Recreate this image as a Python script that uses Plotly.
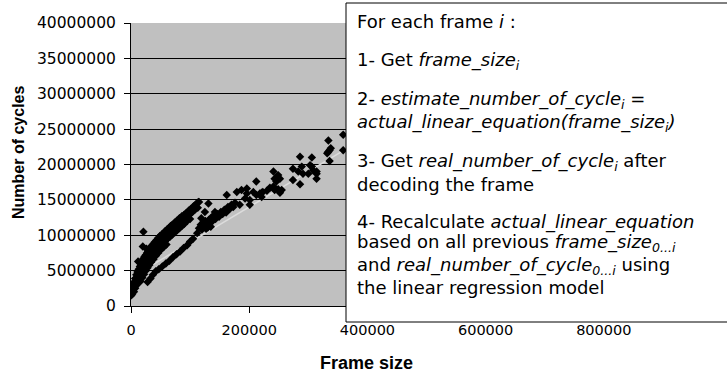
import plotly.graph_objects as go

# Decoding cost per frame: frame size in bytes, cycles in millions.
# Steep branch (small frames)
steep_x = [
    1000, 3000, 5000, 7000, 9000, 11000, 13000, 15000, 17000, 19000,
    21000, 23000, 25000, 27000, 29000, 31000, 33000, 35000, 37000, 40000,
    43000, 46000, 49000, 52000, 55000, 58000, 61000, 64000, 67000, 70000,
    74000, 78000, 82000, 86000, 90000, 94000, 98000, 102000, 106000, 110000, 115000,
    2000, 4000, 6000, 8000, 10000, 12000, 14000, 16000, 18000, 20000,
    22000, 24000, 26000, 28000, 30000, 32000, 34000, 36000, 38000, 41000,
    44000, 47000, 50000, 53000, 56000, 59000, 62000, 65000, 68000, 72000,
    76000, 80000, 84000, 88000, 92000, 96000, 100000, 104000, 108000, 113000,
    5000, 7000, 9000, 11000, 13000, 15000, 17000, 19000, 21000, 23000,
    25000, 27000, 29000, 31000, 33000, 36000, 39000, 42000, 45000, 48000,
    51000, 54000, 57000, 60000, 63000, 66000, 70000, 74000, 78000, 82000,
    86000, 90000, 95000, 100000,
    16000, 19000, 22000, 25000, 28000, 31000, 34000, 38000, 42000, 46000,
    50000, 55000, 60000,
    20000, 21000, 12000, 26000, 500, 1500,
]
steep_y = [
    2.2, 2.9, 3.4, 3.9, 4.4, 4.8, 5.2, 5.6, 6.0, 6.3,
    6.7, 7.0, 7.2, 7.5, 7.7, 8.0, 8.2, 8.5, 8.7, 9.0,
    9.3, 9.6, 9.9, 10.1, 10.3, 10.6, 10.8, 11.0, 11.3, 11.5,
    11.8, 12.1, 12.4, 12.7, 12.9, 13.2, 13.5, 13.8, 14.1, 14.4, 14.7,
    1.7, 2.3, 2.8, 3.3, 3.7, 4.1, 4.5, 4.9, 5.3, 5.6,
    5.9, 6.3, 6.5, 6.8, 7.1, 7.3, 7.6, 7.8, 8.0, 8.4,
    8.7, 9.0, 9.2, 9.5, 9.7, 9.9, 10.2, 10.4, 10.6, 10.9,
    11.2, 11.5, 11.8, 12.1, 12.4, 12.7, 13.0, 13.3, 13.6, 13.9,
    2.0, 2.5, 2.9, 3.3, 3.7, 4.1, 4.5, 4.9, 5.2, 5.5,
    5.8, 6.1, 6.3, 6.6, 6.8, 7.1, 7.5, 7.8, 8.1, 8.4,
    8.6, 8.9, 9.1, 9.4, 9.6, 9.8, 10.1, 10.4, 10.7, 11.0,
    11.3, 11.6, 12.0, 12.3,
    3.5, 4.0, 4.5, 5.0, 5.4, 5.8, 6.2, 6.6, 7.1, 7.5,
    7.9, 8.3, 8.7,
    8.4, 10.5, 6.3, 8.1, 1.5, 1.9,
]

# Shallow branch
shallow_x = [28000, 33000, 37000, 42000, 47000, 53000, 59000, 65000, 71000, 77000,
             83000, 89000, 95000, 100000, 105000]
shallow_y = [3.4, 3.9, 4.4, 4.9, 5.2, 5.6, 6.0, 6.4, 6.9, 7.3,
             7.7, 8.2, 8.6, 9.1, 9.5]

# Where the two branches meet
cluster_x = [
    112000, 115000, 118000, 120000, 122000, 124000, 126000, 128000, 130000, 132000,
    134000, 136000, 138000, 140000, 143000, 146000, 149000, 152000, 155000, 158000,
    161000, 164000, 167000, 170000, 173000, 176000, 125000, 131000, 114000, 142000,
    162000, 135000, 127000, 119000,
]
cluster_y = [
    10.3, 11.0, 11.5, 10.8, 11.8, 11.3, 12.0, 11.6, 11.1, 12.2,
    11.8, 12.5, 12.0, 12.8, 12.3, 13.0, 12.6, 13.3, 13.0, 13.6,
    13.2, 14.0, 13.7, 14.3, 14.0, 14.6, 13.3, 14.5, 14.7, 13.3,
    15.7, 11.2, 10.9, 12.4,
]

# Medium frames
mid_x = [
    179000, 184000, 187000, 193000, 196000, 196000, 201000, 201000, 207000, 212000,
    212000, 218000, 221000, 221000, 223000, 241000, 243000, 246000, 249000, 252000,
    241000, 243000, 249000, 255000, 252000, 235000, 230000,
]
mid_y = [
    16.1, 14.3, 16.4, 15.2, 16.6, 15.9, 14.3, 15.0, 16.1, 15.7,
    17.6, 15.9, 15.4, 16.0, 16.1, 19.0, 18.0, 17.6, 18.5, 18.0,
    16.9, 16.4, 16.5, 16.4, 16.0, 16.7, 16.3,
]

# Large frames
large_x = [
    274000, 274000, 283000, 286000, 286000, 289000, 291000, 300000, 303000, 306000,
    306000, 308000, 314000, 314000, 314000, 334000, 334000, 336000, 336000, 359000,
    359000, 338000, 332000,
]
large_y = [
    19.4, 17.8, 19.0, 21.1, 17.2, 19.7, 18.7, 18.7, 19.9, 21.0,
    19.7, 19.2, 18.7, 18.0, 19.0, 23.4, 21.8, 22.0, 20.5, 24.2,
    22.0, 22.3, 21.6,
]

frame_size = steep_x + shallow_x + cluster_x + mid_x + large_x
cycles = [c * 1e6 for c in steep_y + shallow_y + cluster_y + mid_y + large_y]

# Linear regression trend line
trend_intercept = 4.0e6
trend_slope = 50.0
trend_x = [0, 420000]
trend_y = [trend_intercept + trend_slope * x for x in trend_x]

y_ticks = [0, 5000000, 10000000, 15000000, 20000000, 25000000, 30000000, 35000000, 40000000]
x_ticks = [0, 200000, 400000, 600000, 800000]

W, H = 727, 377
ML, MR, MT, MB = 131, 5, 23, 71


def px_x(px):
    return (px - ML) / (W - ML - MR)


def px_y(py):
    return (H - MB - py) / (H - MT - MB)


fig = go.Figure()
fig.add_trace(go.Scatter(
    x=trend_x, y=trend_y, mode="lines",
    line=dict(color="#DCDCDC", width=1.5), hoverinfo="skip",
))
fig.add_trace(go.Scatter(
    x=frame_size, y=cycles, mode="markers",
    marker=dict(symbol="diamond", size=6.5, color="black", line=dict(width=0)),
))

fig.update_xaxes(
    range=[0, 1000000], tickvals=x_ticks, ticktext=[str(v) for v in x_ticks],
    showgrid=False, zeroline=False, showline=True, linecolor="black", linewidth=1,
    ticks="outside", ticklen=6, tickcolor="black", ticklabelstandoff=5,
    tickfont=dict(family="DejaVu Sans", size=14.5, color="black"),
)
fig.update_yaxes(
    range=[0, 40000000], tickvals=y_ticks, ticktext=[str(v) for v in y_ticks],
    showgrid=True, gridcolor="black", gridwidth=1, zeroline=False,
    showline=True, linecolor="black", linewidth=1,
    ticks="outside", ticklen=6, tickcolor="black", ticklabelstandoff=5,
    tickfont=dict(family="DejaVu Sans", size=15.5, color="black"),
)

# Text panel describing the estimation procedure
fig.add_shape(
    type="rect", xref="paper", yref="paper",
    x0=px_x(346), x1=px_x(745), y0=px_y(322), y1=px_y(3),
    line=dict(color="black", width=1), fillcolor="white", layer="above",
)
panel_lines = [
    ("For each frame <i>i</i> :", 22),
    ("1- Get <i>frame_size<sub>i</sub></i>", 61),
    ("2- <i>estimate_number_of_cycle<sub>i</sub></i> =", 100),
    ("<i>actual_linear_equation(frame_size<sub>i</sub>)</i>", 123),
    ("3- Get <i>real_number_of_cycle<sub>i</sub></i> after", 162),
    ("decoding the frame", 184),
    ("4- Recalculate <i>actual_linear_equation</i>", 222),
    ("based on all previous <i>frame_size<sub>0...i</sub></i>", 243),
    ("and <i>real_number_of_cycle<sub>0...i</sub></i> using", 266),
    ("the linear regression model", 287),
]
for text, ypx in panel_lines:
    fig.add_annotation(
        text=text, xref="paper", yref="paper", x=px_x(355), y=px_y(ypx),
        xanchor="left", yanchor="middle", showarrow=False,
        font=dict(family="DejaVu Sans", size=18, color="black"),
    )

# Axis titles
fig.add_annotation(
    text="<b>Frame size</b>", xref="paper", yref="paper", x=px_x(366), y=px_y(363),
    xanchor="center", yanchor="middle", showarrow=False,
    font=dict(family="Liberation Sans", size=18, color="black"),
)
fig.add_annotation(
    text="<b>Number of cycles</b>", xref="paper", yref="paper", x=px_x(18), y=px_y(153),
    xanchor="center", yanchor="middle", showarrow=False, textangle=-90,
    font=dict(family="Liberation Sans", size=16, color="black"),
)

fig.update_layout(
    width=W, height=H, margin=dict(l=ML, r=MR, t=MT, b=MB),
    plot_bgcolor="#C0C0C0", paper_bgcolor="white", showlegend=False,
)
fig.write_html("out.html")
